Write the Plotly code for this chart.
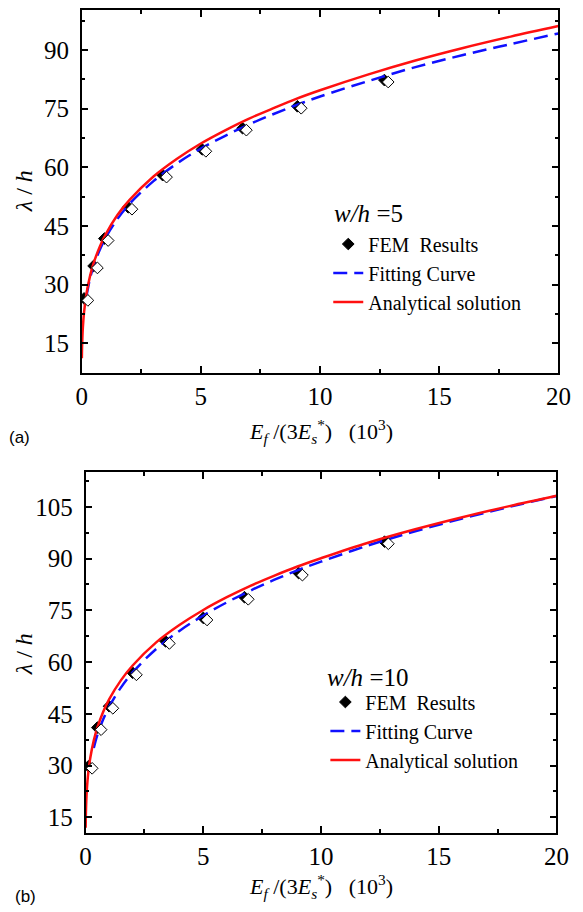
import plotly.graph_objects as go

# the page puts the figure 8px in from the top-left corner
OFF = 8
W, H = 575, 904
SERIF = "Liberation Serif, Times New Roman, serif"

# ---------------- panel (a): w/h = 5 ----------------
fem5_x = [0.1, 0.5, 0.95, 1.95, 3.4, 5.05, 6.75, 9.05, 12.7]
fem5_y = [26.5, 34.8, 41.8, 49.8, 58.0, 64.6, 70.0, 75.6, 82.3]

fit5_x = [0.2, 0.35, 0.5, 0.75, 1, 1.5, 2, 3, 4, 5, 6, 7, 8, 9, 10, 12, 14, 16, 18, 20]
fit5_y = [27.1, 31.6, 34.8, 38.8, 42.0, 46.8, 50.6, 56.4, 61.0, 64.8, 68.0, 70.9,
          73.5, 75.9, 78.1, 82.0, 85.6, 88.7, 91.5, 94.2]

ana5_x = [0.007, 0.02, 0.05, 0.1, 0.2, 0.35, 0.5, 0.75, 1, 1.5, 2, 3, 4, 5, 6, 7, 8,
          9, 10, 12, 14, 16, 18, 20]
ana5_y = [11.2, 14.9, 19.1, 23.0, 27.7, 32.2, 35.5, 39.6, 42.8, 47.8, 51.6, 57.6,
          62.2, 66.1, 69.4, 72.4, 75.0, 77.5, 79.7, 83.7, 87.3, 90.5, 93.4, 96.1]

# ---------------- panel (b): w/h = 10 ----------------
fem10_x = [0.12, 0.5, 1.0, 2.0, 3.4, 5.0, 6.75, 9.05, 12.7]
fem10_y = [29.8, 41.0, 47.2, 56.9, 66.0, 72.8, 78.8, 85.8, 94.9]

fit10_x = [0.35, 0.5, 0.75, 1, 1.5, 2, 3, 4, 5, 6, 7, 8, 9, 10, 12, 14, 16, 18, 20]
fit10_y = [35.1, 38.8, 43.4, 47.0, 52.6, 57.0, 63.8, 69.1, 73.5, 77.3, 80.7, 83.8,
           86.6, 89.1, 93.8, 97.9, 101.6, 105.0, 108.1]

ana10_x = [0.0047, 0.01, 0.03, 0.06, 0.1, 0.2, 0.35, 0.5, 0.75, 1, 1.5, 2, 3, 4, 5,
           6, 7, 8, 9, 10, 12, 14, 16, 18, 20]
ana10_y = [12.0, 14.7, 19.6, 23.5, 26.9, 32.2, 37.3, 41.0, 45.6, 49.2, 54.7, 59.0,
           65.7, 70.8, 75.1, 78.8, 82.1, 85.0, 87.7, 90.1, 94.6, 98.5, 102.0, 105.2,
           108.2]

x_range = [0, 20]
y_range_a = [7.4, 100.2]
y_range_b = [10.4, 115.1]


# screen pixel -> paper fraction
def px(v):
    return min(1, max(0, (v - OFF) / W))


def py(v):
    return min(1, max(0, 1 - (v - OFF) / H))


fig = go.Figure()


def add_panel(xa, ya, xs, ys, legend, fem_x, fem_y, fit_x, fit_y, ana_x, ana_y):
    # black diamond, with a white one drawn on a slightly shifted overlay axis
    fig.add_trace(go.Scatter(x=fem_x, y=fem_y, mode="markers", name="FEM\u00a0 Results",
                             xaxis=xa, yaxis=ya, legend=legend,
                             marker=dict(symbol="diamond", size=9, color="black",
                                         line=dict(color="black", width=1))))
    fig.add_trace(go.Scatter(x=fem_x, y=fem_y, mode="markers", showlegend=False,
                             xaxis=xs, yaxis=ys, legend=legend,
                             marker=dict(symbol="diamond", size=9, color="white",
                                         line=dict(color="black", width=1))))
    fig.add_trace(go.Scatter(x=fit_x, y=fit_y, mode="lines", name="Fitting Curve",
                             xaxis=xa, yaxis=ya, legend=legend, line_shape="spline",
                             line=dict(color="#1010ff", width=2.5, dash="14px,7px")))
    fig.add_trace(go.Scatter(x=ana_x, y=ana_y, mode="lines", name="Analytical solution",
                             xaxis=xa, yaxis=ya, legend=legend, line_shape="spline",
                             line=dict(color="#ff1010", width=2.5)))


add_panel("x", "y", "x3", "y3", "legend", fem5_x, fem5_y, fit5_x, fit5_y, ana5_x, ana5_y)
add_panel("x2", "y2", "x4", "y4", "legend2", fem10_x, fem10_y, fit10_x, fit10_y,
          ana10_x, ana10_y)

tick_font = dict(family=SERIF, size=25, color="black")
axis_style = dict(showline=True, linecolor="black", linewidth=1.5, mirror="ticks",
                  ticks="inside", ticklen=7, tickwidth=1.5, tickcolor="black",
                  showgrid=False, zeroline=False, tickfont=tick_font,
                  minor=dict(ticks="inside", ticklen=4, tickwidth=1.5, tickcolor="black",
                             showgrid=False))

dom_xa = [px(78), px(571)]
dom_ya = [py(372), py(7)]
dom_xb = [px(82), px(569)]
dom_yb = [py(833), py(471)]

# shadow offset for the white diamonds (data units)
dxa, dya = 0.16, 0.5
dxb, dyb = 0.16, 0.6

fig.update_layout(
    width=W, height=H,
    margin=dict(l=0, r=0, t=0, b=0),
    paper_bgcolor="white", plot_bgcolor="white",
    font=dict(family=SERIF, color="black"),
    xaxis=dict(axis_style, domain=dom_xa, anchor="y", range=x_range, dtick=5,
               tick0=0, ticklabelstandoff=0),
    yaxis=dict(axis_style, domain=dom_ya, anchor="x", range=y_range_a, dtick=15,
               tick0=0, ticklabelstandoff=6),
    xaxis2=dict(axis_style, domain=dom_xb, anchor="y2", range=x_range, dtick=5,
                tick0=0, ticklabelstandoff=0),
    yaxis2=dict(axis_style, domain=dom_yb, anchor="x2", range=y_range_b, dtick=15,
                tick0=0, ticklabelstandoff=6),
    xaxis3=dict(overlaying="x", range=[x_range[0] - dxa, x_range[1] - dxa], visible=False),
    yaxis3=dict(overlaying="y", range=[y_range_a[0] + dya, y_range_a[1] + dya], visible=False),
    xaxis4=dict(overlaying="x2", range=[x_range[0] - dxb, x_range[1] - dxb], visible=False),
    yaxis4=dict(overlaying="y2", range=[y_range_b[0] + dyb, y_range_b[1] + dyb], visible=False),
    legend=dict(x=px(333), y=py(223), xanchor="left", yanchor="top",
                bgcolor="rgba(0,0,0,0)", tracegroupgap=0,
                font=dict(family=SERIF, size=20, color="black")),
    legend2=dict(x=px(330), y=py(682), xanchor="left", yanchor="top",
                 bgcolor="rgba(0,0,0,0)", tracegroupgap=0,
                 font=dict(family=SERIF, size=20, color="black")),
)
fig.update_layout(xaxis_minor_dtick=2.5, xaxis2_minor_dtick=2.5,
                  yaxis_minor_dtick=7.5, yaxis2_minor_dtick=7.5)

ytitle = "<i>λ</i> / <i>h</i>"
xtitle = ("<i>E</i><sub><i>f</i></sub> /(3<i>E</i><sub><i>s</i></sub><sup>*</sup>)"
          "\u00a0\u00a0 (10<sup>3</sup>)")

notes = [
    dict(text=ytitle, x=px(18), y=py(190), textangle=-90, size=24, family=SERIF),
    dict(text=ytitle, x=px(18), y=py(654), textangle=-90, size=24, family=SERIF),
    dict(text=xtitle, x=px(326), y=py(430), textangle=0, size=22, family=SERIF),
    dict(text=xtitle, x=px(326), y=py(886), textangle=0, size=22, family=SERIF),
    dict(text="<i>w/h</i> =5", x=px(375), y=py(212), textangle=0, size=25, family=SERIF),
    dict(text="<i>w/h</i> =10", x=px(374), y=py(677), textangle=0, size=25, family=SERIF),
    dict(text="(a)", x=px(14), y=py(436), textangle=0, size=17,
         family="Liberation Sans, Arial, sans-serif"),
    dict(text="(b)", x=px(20), y=py(896), textangle=0, size=17,
         family="Liberation Sans, Arial, sans-serif"),
]
for n in notes:
    fig.add_annotation(text=n["text"], x=n["x"], y=n["y"], xref="paper", yref="paper",
                       xanchor="center", yanchor="middle", showarrow=False,
                       textangle=n["textangle"],
                       font=dict(family=n["family"], size=n["size"], color="black"))

fig.write_html("out.html")
